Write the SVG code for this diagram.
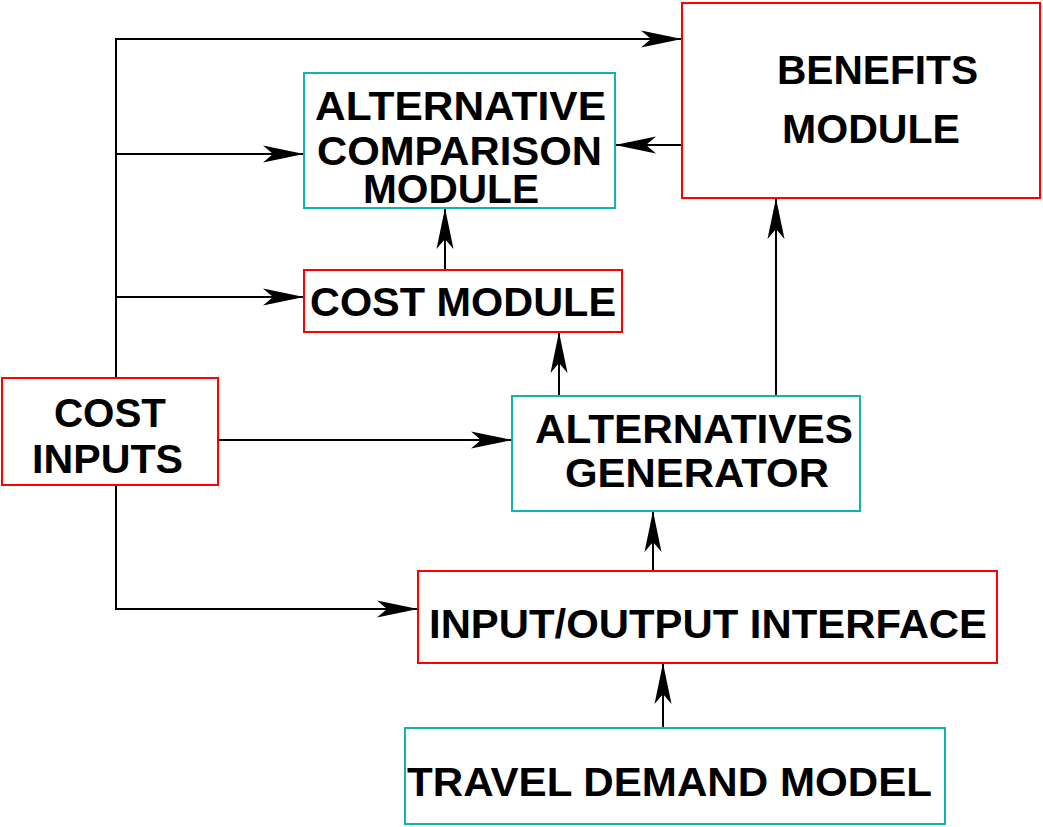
<svg xmlns="http://www.w3.org/2000/svg" width="1043" height="827" viewBox="0 0 1043 827">
<style>
.red{fill:#fff;stroke:#ff0000;stroke-width:2}
.cyan{fill:#fff;stroke:#12b2b2;stroke-width:2}
.t{font-family:"Liberation Sans",Arial,sans-serif;font-weight:bold;font-size:40px;fill:#000}
.c{fill:none;stroke:#000;stroke-width:2}
</style>
<defs>
<marker id="ah" viewBox="-41 -9 42 18" refX="0" refY="0" markerWidth="42" markerHeight="18" markerUnits="userSpaceOnUse" orient="auto">
<path d="M0,0 L-41,-8.5 L-31,0 L-41,8.5 Z" fill="#000"/>
</marker>
</defs>
<rect width="1043" height="827" fill="#fff"/>
<g id="connectors">
<polyline class="c" points="116,378 116,39 682,39" marker-end="url(#ah)"/>
<line class="c" x1="116" y1="154" x2="304" y2="154" marker-end="url(#ah)"/>
<line class="c" x1="116" y1="297" x2="304" y2="297" marker-end="url(#ah)"/>
<line class="c" x1="218" y1="440" x2="512" y2="440" marker-end="url(#ah)"/>
<polyline class="c" points="116,485 116,609 418,609" marker-end="url(#ah)"/>
<line class="c" x1="682" y1="145" x2="615" y2="145" marker-end="url(#ah)"/>
<line class="c" x1="445" y1="270" x2="445" y2="208" marker-end="url(#ah)"/>
<line class="c" x1="559" y1="396" x2="559" y2="332" marker-end="url(#ah)"/>
<line class="c" x1="776" y1="396" x2="776" y2="198" marker-end="url(#ah)"/>
<line class="c" x1="653" y1="574" x2="653" y2="511" marker-end="url(#ah)"/>
<line class="c" x1="663" y1="728" x2="663" y2="663" marker-end="url(#ah)"/>
</g>
<g id="benefits">
<rect class="red" x="682" y="3" width="358" height="195"/>
<text class="t" x="777" y="84" textLength="201" lengthAdjust="spacingAndGlyphs">BENEFITS</text>
<text class="t" x="782" y="143" textLength="178" lengthAdjust="spacingAndGlyphs">MODULE</text>
</g>
<g id="alt-comparison">
<rect class="cyan" x="304" y="73" width="311" height="135"/>
<text class="t" x="315" y="120" textLength="291" lengthAdjust="spacingAndGlyphs">ALTERNATIVE</text>
<text class="t" x="317" y="165" textLength="285" lengthAdjust="spacingAndGlyphs">COMPARISON</text>
<text class="t" x="363" y="203" textLength="176" lengthAdjust="spacingAndGlyphs">MODULE</text>
</g>
<g id="cost-module">
<rect class="red" x="304" y="270" width="318" height="62"/>
<text class="t" x="310" y="316" textLength="306" lengthAdjust="spacingAndGlyphs">COST MODULE</text>
</g>
<g id="cost-inputs">
<rect class="red" x="2" y="378" width="216" height="107"/>
<text class="t" x="54" y="427" textLength="112" lengthAdjust="spacingAndGlyphs">COST</text>
<text class="t" x="32" y="473" textLength="151" lengthAdjust="spacingAndGlyphs">INPUTS</text>
</g>
<g id="alt-generator">
<rect class="cyan" x="512" y="396" width="348" height="115"/>
<text class="t" x="535" y="443" textLength="318" lengthAdjust="spacingAndGlyphs">ALTERNATIVES</text>
<text class="t" x="565" y="487" textLength="264" lengthAdjust="spacingAndGlyphs">GENERATOR</text>
</g>
<g id="io-interface">
<rect class="red" x="418" y="571" width="579" height="92"/>
<text class="t" x="429" y="638" textLength="558" lengthAdjust="spacingAndGlyphs">INPUT/OUTPUT INTERFACE</text>
</g>
<g id="travel-demand">
<rect class="cyan" x="405" y="728" width="540" height="96"/>
<text class="t" x="407" y="796" textLength="525" lengthAdjust="spacingAndGlyphs">TRAVEL DEMAND MODEL</text>
</g>
</svg>
